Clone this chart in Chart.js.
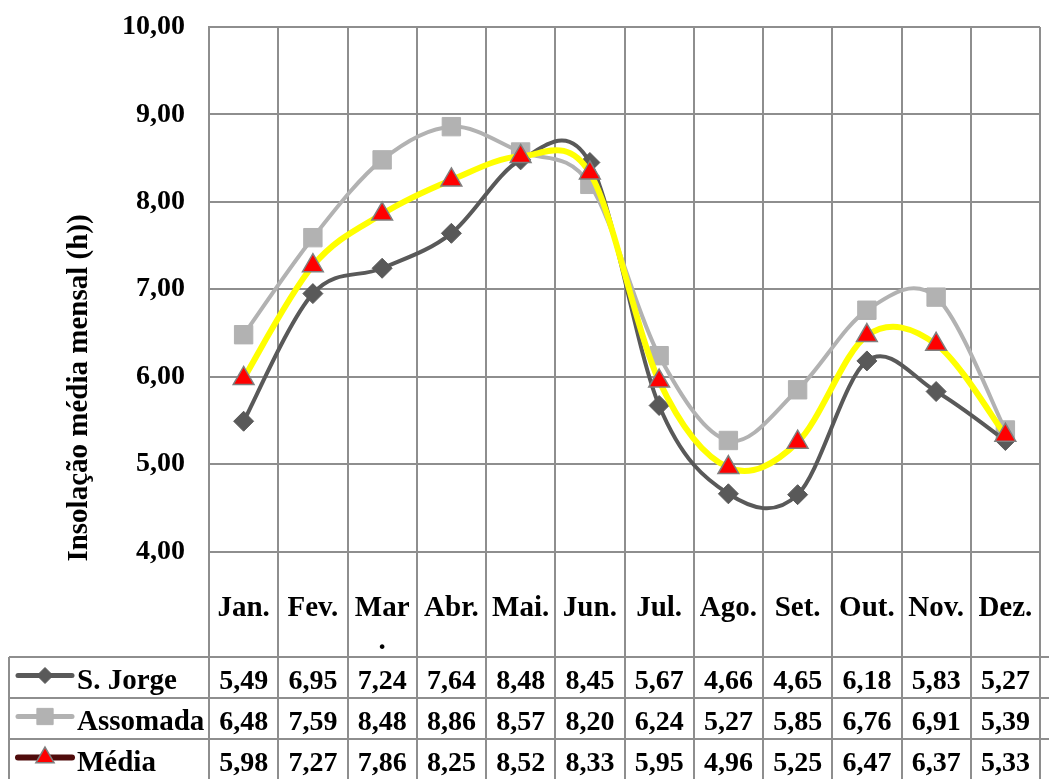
<!DOCTYPE html>
<html lang="pt">
<head>
<meta charset="utf-8">
<title>Insolação média mensal</title>
<script src="https://cdn.jsdelivr.net/npm/chart.js@4.4.1/dist/chart.umd.min.js"></script>
<style>
  html, body { margin: 0; padding: 0; background: #fff; overflow: hidden; }
  #wrap { width: 1049px; height: 779px; overflow: hidden; position: relative; }
  canvas { display: block; }
</style>
</head>
<body>
<div id="wrap"><canvas id="c" width="1054" height="779"></canvas></div>
<script>
// Monthly categories and series values
const months = ['Jan.', 'Fev.', 'Mar.', 'Abr.', 'Mai.', 'Jun.', 'Jul.', 'Ago.', 'Set.', 'Out.', 'Nov.', 'Dez.'];
const sJorge   = [5.49, 6.95, 7.24, 7.64, 8.48, 8.45, 5.67, 4.66, 4.65, 6.18, 5.83, 5.27];
const assomada = [6.48, 7.59, 8.48, 8.86, 8.57, 8.20, 6.24, 5.27, 5.85, 6.76, 6.91, 5.39];
const media    = [5.98, 7.27, 7.86, 8.25, 8.52, 8.33, 5.95, 4.96, 5.25, 6.47, 6.37, 5.33];
const yTicks = [4, 5, 6, 7, 8, 9, 10];
const seriesNames = ['S. Jorge', 'Assomada', 'Média'];
const yTitle = 'Insolação média mensal (h))';

const FONT = "'Liberation Serif', 'Times New Roman', serif";
const GRID = '#8e8e8e';
const HEADER_H = 105.5;
const ROW_H = 41;
const TABLE_LEFT = 9;

const fmt = v => v.toFixed(2).replace('.', ',');

// Marker/line looks shared by the chart series and the table legend keys
const looks = [
  { line: '#595959', lineW: 4, keyLine: '#595959', style: 'rectRot', r: 10, fill: '#595959', stroke: '#595959', sw: 1 },
  { line: '#b2b2b2', lineW: 4, keyLine: '#b2b2b2', style: 'rect', r: 13, fill: '#b2b2b2', stroke: '#b2b2b2', sw: 1 },
  { line: '#ffff00', lineW: 6, keyLine: '#4f0b0b', style: 'triangle', r: 12, fill: '#ff0000', stroke: '#7f7f7f', sw: 1.5 }
];
const seriesValues = [sJorge, assomada, media];

function drawMarker(ctx, style, x, y, r, fill, stroke, sw) {
  ctx.beginPath();
  if (style === 'rectRot') {
    ctx.moveTo(x, y - r); ctx.lineTo(x + r, y); ctx.lineTo(x, y + r); ctx.lineTo(x - r, y);
  } else if (style === 'rect') {
    const s = r * Math.SQRT1_2;
    ctx.rect(x - s, y - s, 2 * s, 2 * s);
  } else {
    ctx.moveTo(x, y - r);
    ctx.lineTo(x + 0.866 * r, y + 0.5 * r);
    ctx.lineTo(x - 0.866 * r, y + 0.5 * r);
  }
  ctx.closePath();
  ctx.fillStyle = fill; ctx.fill();
  ctx.strokeStyle = stroke; ctx.lineWidth = sw; ctx.stroke();
}

const sheetTable = {
  id: 'sheetTable',
  beforeDatasetsDraw(chart) {
    // column rules running through the plot and the data table
    const xs = chart.scales.x, ca = chart.chartArea, ctx = chart.ctx;
    const w = (xs.right - xs.left) / months.length;
    ctx.save();
    ctx.strokeStyle = GRID; ctx.lineWidth = 2;
    ctx.beginPath();
    for (let k = 0; k <= months.length; k++) {
      const x = Math.round(xs.left + k * w);
      ctx.moveTo(x, ca.top); ctx.lineTo(x, chart.height);
    }
    ctx.stroke();
    ctx.restore();
  },
  beforeDatasetDraw(chart, args) {
    // spreadsheet-style smoothing: tangents of (next - prev) / 6
    const meta = args.meta, line = meta.dataset;
    if (!line || !line.updateControlPoints) return;
    line.updateControlPoints(chart.chartArea, 'x');
    const pts = meta.data;
    pts.forEach((p, i) => {
      const a = pts[i - 1] || p, b = pts[i + 1] || p;
      const dx = (b.x - a.x) / 6, dy = (b.y - a.y) / 6;
      p.cp1x = p.x - dx; p.cp1y = p.y - dy;
      p.cp2x = p.x + dx; p.cp2y = p.y + dy;
    });
  },
  afterDraw(chart) {
    const ctx = chart.ctx, xs = chart.scales.x, ca = chart.chartArea;
    const w = (xs.right - xs.left) / months.length;
    const headTop = ca.bottom, headBottom = headTop + HEADER_H;
    ctx.save();

    // table rules
    ctx.strokeStyle = GRID; ctx.lineWidth = 2;
    ctx.beginPath();
    for (let r = 0; r < seriesNames.length; r++) {
      const y = Math.round(headBottom + r * ROW_H);
      ctx.moveTo(TABLE_LEFT, y); ctx.lineTo(chart.width, y);
    }
    ctx.moveTo(TABLE_LEFT, Math.round(headBottom)); ctx.lineTo(TABLE_LEFT, chart.height);
    ctx.stroke();

    // month header (wraps when too wide for the cell)
    ctx.fillStyle = '#000';
    ctx.font = `bold 29px ${FONT}`;
    ctx.textAlign = 'center';
    ctx.textBaseline = 'alphabetic';
    months.forEach((m, i) => {
      const cx = xs.getPixelForValue(i);
      const lines = ctx.measureText(m).width > w - 12 ? [m.slice(0, -1), m.slice(-1)] : [m];
      lines.forEach((t, j) => ctx.fillText(t, cx, headTop + 64 + j * 33));
    });

    // series rows: legend key, name, values
    seriesNames.forEach((name, r) => {
      const top = headBottom + r * ROW_H;
      const base = top + 32;
      const ky = top + 18.5;
      const lk = looks[r];
      ctx.save();
      ctx.lineCap = 'round';
      ctx.strokeStyle = lk.keyLine;
      ctx.lineWidth = r === 2 ? 6 : 5;
      ctx.beginPath(); ctx.moveTo(18, ky); ctx.lineTo(72, ky); ctx.stroke();
      ctx.restore();
      drawMarker(ctx, lk.style, 45, ky, r === 0 ? 8 : (r === 1 ? 11.5 : 10.5), lk.fill, lk.stroke, lk.sw);

      ctx.fillStyle = '#000';
      ctx.textAlign = 'left';
      ctx.font = `bold 29px ${FONT}`;
      ctx.fillText(name, 77, base);
      ctx.textAlign = 'center';
      ctx.font = `bold 28px ${FONT}`;
      seriesValues[r].forEach((v, i) => ctx.fillText(fmt(v), xs.getPixelForValue(i), base));
    });

    // y-axis title
    ctx.translate(80, 388);
    ctx.rotate(-Math.PI / 2);
    ctx.textAlign = 'center';
    ctx.textBaseline = 'middle';
    ctx.font = `bold 29px ${FONT}`;
    ctx.fillText(yTitle, 0, 0);
    ctx.restore();
  }
};

const datasets = seriesNames.map((name, i) => ({
  label: name,
  data: seriesValues[i],
  borderColor: looks[i].line,
  borderWidth: looks[i].lineW,
  tension: 0.4,
  pointStyle: looks[i].style,
  pointRadius: looks[i].r,
  pointBackgroundColor: looks[i].fill,
  pointBorderColor: looks[i].stroke,
  pointBorderWidth: looks[i].sw,
  order: [1, 2, 0][i],
  fill: false
}));

new Chart(document.getElementById('c'), {
  type: 'line',
  data: { labels: months, datasets },
  options: {
    responsive: false,
    animation: false,
    devicePixelRatio: 1,
    layout: { padding: { top: 27, bottom: 779 - 551.5, left: 0, right: 0 } },
    plugins: { legend: { display: false }, tooltip: { enabled: false } },
    scales: {
      x: { type: 'category', offset: true, display: false },
      y: {
        min: 4, max: 10,
        afterBuildTicks: s => { s.ticks = yTicks.map(v => ({ value: v })); },
        afterFit: s => { s.width = 209; s.paddingTop = 0; s.paddingBottom = 0; },
        ticks: {
          callback: v => fmt(v),
          color: '#000',
          font: { family: FONT, size: 28, weight: 'bold' },
          padding: 24
        },
        grid: { color: GRID, lineWidth: 2, drawTicks: false },
        border: { color: GRID, width: 2 }
      }
    }
  },
  plugins: [sheetTable]
});
</script>
</body>
</html>
